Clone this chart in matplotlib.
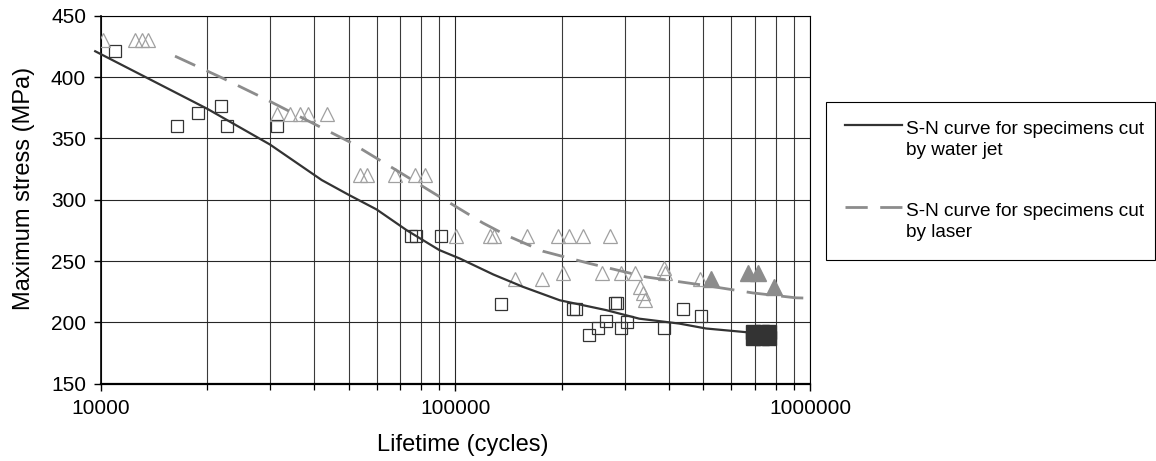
import numpy as np
import matplotlib
matplotlib.use("Agg")
import matplotlib.pyplot as plt
import matplotlib.ticker as ticker
from matplotlib.legend_handler import HandlerLine2D

plt.rcParams['font.family'] = ['Liberation Sans', 'DejaVu Sans']

#======================================================================
# DATOS
# curva S-N, chorro de agua
wj_curve_n = [9650, 20000, 30000, 42000, 50000, 60000, 73000, 90000, 103000, 128000,
              155000, 197000, 266000, 330000, 428000, 509000, 660000, 720000]
wj_curve_s = [421, 374, 345, 316, 304, 292, 275, 259, 252, 239,
              229, 218, 210, 203, 199, 195, 192, 190]

# curva S-N, laser
laser_curve_n = [16200, 22100, 28700, 38000, 50400, 68200, 88400, 119600, 139200,
                 176500, 238900, 345000, 509000, 689000, 913000, 1030000]
laser_curve_s = [417, 399, 383, 365, 347, 324, 304, 281, 271,
                 258, 248, 237, 230, 224, 220, 219.6]

# ensayos chorro de agua (cuadrados)
wj_n = [11000, 16400, 18800, 21900, 22700, 31500, 75200, 77600, 90900, 134800,
        214500, 218300, 282000, 286000, 437700, 493200, 266300, 252100, 238900,
        293500, 305200, 388700]
wj_s = [421, 360, 371, 376, 360, 360, 270, 270, 270, 215,
        211, 211, 216, 216, 211, 205, 201, 195, 190,
        195, 200, 195]
wj_runout_n = [692000, 730000, 768000, 692000, 730000, 768000]
wj_runout_s = [192, 192, 192, 187.5, 187.5, 187.5]

# ensayos laser (triangulos)
laser_n = [10170, 12490, 13050, 13620, 31450, 34100, 36400, 38450, 43600,
           53800, 56400, 67500, 77200, 82300,
           100200, 124900, 128400, 159100, 194500, 208900, 228800, 272100,
           147100, 175400, 200900, 258800, 293500, 320000, 332000, 337800,
           341500, 388700, 391000, 491000]
laser_s = [430, 430, 430, 430, 370, 370, 370, 370, 370,
           320, 320, 320, 320, 320,
           270, 270, 270, 270, 270, 270, 270, 270,
           235, 235, 240, 240, 240, 240, 229, 224,
           218, 244, 240, 235]
laser_runout_n = [526000, 667000, 712000, 793000]
laser_runout_s = [235, 240, 240, 229]

y_ticks = [150, 200, 250, 300, 350, 400, 450]

DARK = '#333333'
GRIS = '#8c8c8c'
GRIS_CLARO = '#a0a0a0'


class TopLineHandler(HandlerLine2D):
    # pone la muestra de la leyenda a la altura de la primera linea del texto
    def create_artists(self, legend, orig_handle, xdescent, ydescent, width, height, fontsize, trans):
        arts = super().create_artists(legend, orig_handle, xdescent, ydescent, width, height, fontsize, trans)
        for a in arts:
            a.set_ydata(np.asarray(a.get_ydata()) + 0.78 * fontsize)
        return arts


#======================================================================
# PLOTEO
fig = plt.figure(figsize=(11.56, 4.61), dpi=100)
ax = fig.add_axes([0.0871, 0.1677, 0.6136, 0.7983])

ax.plot(wj_n, wj_s, linestyle='none', marker='s', ms=9, mfc='none', mec=DARK, mew=0.9, zorder=3)
ax.plot(wj_runout_n, wj_runout_s, linestyle='none', marker='s', ms=9.5, mfc=DARK, mec=DARK, zorder=3)
ax.plot(laser_n, laser_s, linestyle='none', marker='^', ms=9.5, mfc='none', mec=GRIS_CLARO, mew=0.9, zorder=3)
ax.plot(laser_runout_n, laser_runout_s, linestyle='none', marker='^', ms=11, mfc=GRIS, mec=GRIS, zorder=3)

l1, = ax.plot(wj_curve_n, wj_curve_s, color=DARK, lw=1.6, zorder=4, clip_on=False)
l2, = ax.plot(laser_curve_n, laser_curve_s, color=GRIS, lw=2.0, dashes=(8, 4.5), zorder=4, clip_on=False)

ax.set_xscale('log')
ax.set_xlim(1e4, 1e6)
ax.set_ylim(150, 450)
ax.set_yticks(y_ticks)
ax.xaxis.set_major_locator(ticker.LogLocator(base=10, numticks=5))
ax.xaxis.set_major_formatter(ticker.FuncFormatter(lambda v, p: f'{v:.0f}'))
ax.xaxis.set_minor_locator(ticker.LogLocator(base=10, subs=np.arange(2, 10), numticks=10))
ax.xaxis.set_minor_formatter(ticker.NullFormatter())

ax.tick_params(axis='both', which='major', direction='out', length=5, width=1, color='k',
               labelsize=15, pad=5.5)
ax.tick_params(axis='x', which='major', pad=6)
ax.tick_params(axis='x', which='minor', direction='out', length=4.5, width=0.9, color='k')

ax.grid(which='major', axis='both', color='#262626', lw=0.8)
ax.grid(which='minor', axis='x', color='#3a3a3a', lw=0.8)
ax.set_axisbelow(True)

for s in ['top', 'right']:
    ax.spines[s].set_linewidth(0.8)
ax.spines['left'].set_linewidth(1.2)
ax.spines['bottom'].set_linewidth(1.6)

ax.set_xlabel('Lifetime (cycles)', fontsize=17)
ax.set_ylabel('Maximum stress (MPa)', fontsize=17)
ax.xaxis.set_label_coords(0.51, -0.137)
ax.yaxis.set_label_coords(-0.092, 0.53)

leg = fig.legend([l1, l2],
                 ['S-N curve for specimens cut\nby water jet', 'S-N curve for specimens cut\nby laser'],
                 loc='upper left', bbox_to_anchor=(0.7145, 0.4289, 0.2846, 0.3492), mode='expand',
                 borderaxespad=0, fancybox=False, edgecolor='black', framealpha=1,
                 fontsize=13.7, handlelength=3.0, handletextpad=0.2, borderpad=1.0,
                 labelspacing=2.3, handler_map={l1: TopLineHandler(), l2: TopLineHandler()})
leg.get_frame().set_linewidth(0.8)
for t in leg.get_texts():
    t.set_linespacing(1.3)

fig.savefig('out.png', dpi=100)
plt.close(fig)
